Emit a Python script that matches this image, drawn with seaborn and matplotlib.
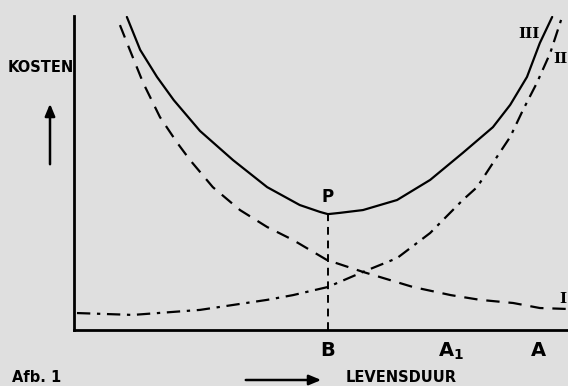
import matplotlib
matplotlib.use("Agg")
import matplotlib.pyplot as plt
from matplotlib.patches import FancyArrowPatch
import pandas as pd
import seaborn as sns

# curve I: costs falling with lifetime (dashed)
curve_i_x = [0.93, 1.13, 1.40, 1.74, 2.09, 2.35, 2.81, 3.36, 3.91, 4.43, 5.12, 5.85,
             6.86, 7.63, 8.22, 8.89, 9.43, 9.98]
curve_i_y = [9.71, 8.92, 7.87, 6.78, 5.96, 5.41, 4.55, 3.82, 3.28, 2.87, 2.23, 1.85,
             1.37, 1.11, 0.96, 0.86, 0.70, 0.67]

# curve II: costs rising with lifetime (dash-dot)
curve_ii_x = [0.06, 1.19, 2.55, 3.91, 4.43, 5.14, 5.85, 6.54, 7.21, 7.87, 8.16, 8.56,
              8.83, 9.09, 9.37, 9.64, 9.88]
curve_ii_y = [0.54, 0.48, 0.64, 0.96, 1.11, 1.37, 1.85, 2.29, 3.09, 4.14, 4.55, 5.51,
              6.15, 7.01, 7.87, 8.82, 9.97]

# curve III: total costs (solid)
curve_iii_x = [1.07, 1.34, 1.68, 2.02, 2.55, 3.22, 3.91, 4.57, 4.98, 5.14, 5.38, 5.85,
               6.54, 7.21, 7.87, 8.48, 8.83, 9.17, 9.43, 9.68]
curve_iii_y = [9.97, 8.92, 8.06, 7.32, 6.34, 5.41, 4.55, 3.98, 3.76, 3.69, 3.73, 3.82,
               4.14, 4.78, 5.64, 6.46, 7.17, 8.06, 9.14, 9.97]

tick_pos = [5.14, 7.63, 9.41]
tick_labels = ["B", "A$_1$", "A"]

BG = "#dfdfdf"
W, H = 568, 386


def fx(px):
    return px / W


def fy(py):
    return 1 - py / H


sns.set_style("white")
plt.rcParams["mathtext.default"] = "regular"
plt.rcParams["font.family"] = ["DejaVu Sans"]
plt.rcParams["text.color"] = "black"
plt.rcParams["xtick.color"] = "black"

fig = plt.figure(figsize=(5.68, 3.86), dpi=100, facecolor=BG)
ax = fig.add_axes([fx(74), 1 - 330 / H, fx(568 - 74), (330 - 16) / H])
ax.set_facecolor(BG)

df_i = pd.DataFrame({"x": curve_i_x, "y": curve_i_y})
df_ii = pd.DataFrame({"x": curve_ii_x, "y": curve_ii_y})
df_iii = pd.DataFrame({"x": curve_iii_x, "y": curve_iii_y})

sns.lineplot(data=df_i, x="x", y="y", ax=ax, sort=False, color="black",
             lw=1.6, linestyle=(0, (6, 4)))
sns.lineplot(data=df_ii, x="x", y="y", ax=ax, sort=False, color="black",
             lw=1.6, linestyle=(0, (6, 3, 1.5, 3)))
sns.lineplot(data=df_iii, x="x", y="y", ax=ax, sort=False, color="black", lw=1.6)

# dashed drop line from the minimum P down to B
p_idx = curve_iii_y.index(min(curve_iii_y))
p_x, p_y = curve_iii_x[p_idx], curve_iii_y[p_idx]
ax.vlines(p_x, 0, p_y, colors="black", lw=1.4, linestyles=[(0, (4, 3))])
ax.text(p_x, p_y + 0.25, "P", ha="center", va="bottom", fontsize=12, fontweight="bold")

ax.set_xlim(0, 10)
ax.set_ylim(0, 10)
ax.set_xlabel("")
ax.set_ylabel("")
ax.set_yticks([])
ax.set_xticks(tick_pos)
ax.set_xticklabels(tick_labels, fontsize=14, fontweight="bold")
ax.tick_params(axis="x", direction="in", length=4, width=1.5, pad=8, colors="black")

sns.despine(ax=ax)
for side in ["left", "bottom"]:
    ax.spines[side].set_linewidth(2)
    ax.spines[side].set_color("black")

serif = dict(family="DejaVu Serif", fontweight="bold", fontsize=11)
fig.text(fx(540), fy(34), "III", ha="right", va="center", **serif)
fig.text(fx(553), fy(59), "II", ha="left", va="center", **serif)
fig.text(fx(559), fy(299), "I", ha="left", va="center", **serif)

fig.text(fx(8), fy(68), "KOSTEN", ha="left", va="center", fontsize=10.5, fontweight="bold")
fig.text(fx(12), fy(377), "Afb. 1", ha="left", va="center", fontsize=10.5, fontweight="bold")
fig.text(fx(346), fy(378), "LEVENSDUUR", ha="left", va="center", fontsize=10.5, fontweight="bold")

arrow = dict(arrowstyle="-|>,head_length=0.6,head_width=0.25", color="black", lw=1.8)
fig.patches.append(FancyArrowPatch(
    (fx(50), fy(167)), (fx(50), fy(101)), transform=fig.transFigure, mutation_scale=12, **arrow))
fig.patches.append(FancyArrowPatch(
    (fx(243), fy(380)), (fx(324), fy(380)), transform=fig.transFigure, mutation_scale=12, **arrow))

fig.savefig("out.png", dpi=100, facecolor=BG)
